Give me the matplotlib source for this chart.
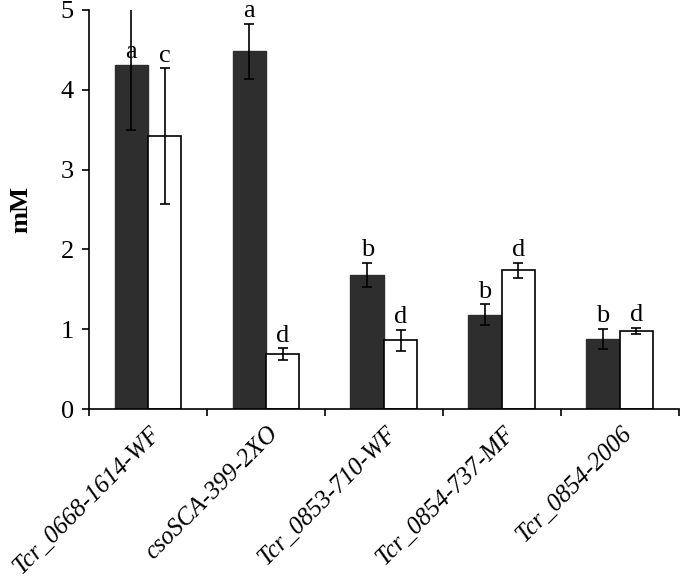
import matplotlib.pyplot as plt
import numpy as np

plt.rcParams["font.family"] = ["Liberation Serif", "DejaVu Serif"]

strains = ["Tcr_0668-1614-WF", "csoSCA-399-2XO", "Tcr_0853-710-WF",
           "Tcr_0854-737-MF", "Tcr_0854-2006"]
dark_vals = [4.31, 4.48, 1.68, 1.18, 0.88]
dark_err = [0.81, 0.35, 0.15, 0.13, 0.125]
white_vals = [3.42, 0.69, 0.86, 1.74, 0.98]
white_err = [0.85, 0.07, 0.13, 0.095, 0.035]
dark_letters = ["a", "a", "b", "b", "b"]
white_letters = ["c", "d", "d", "d", "d"]

fig = plt.figure(figsize=(6.8, 5.86), dpi=100)
ax = fig.add_axes([0.131, 0.302, 0.867, 0.681])

x = np.arange(len(strains)) + 0.5
w = 0.283
ekw = dict(ecolor="black", elinewidth=1.2, capsize=3.5, capthick=1.2)

ax.bar(x - w / 2, dark_vals, w, color="#2e2e2e", edgecolor="#2e2e2e",
       yerr=dark_err, error_kw=ekw, zorder=2)
ax.bar(x + w / 2, white_vals, w, color="white", edgecolor="black",
       linewidth=1.2, yerr=white_err, error_kw=ekw, zorder=2)

ymax = 5
fs = 19
for xi, v, e, t in zip(x - w / 2, dark_vals, dark_err, dark_letters):
    top = v + e if v + e < ymax else v
    ax.text(xi, top + 0.02, t, ha="center", va="bottom", fontsize=fs)
for xi, v, e, t in zip(x + w / 2, white_vals, white_err, white_letters):
    top = v + e if v + e < ymax else v
    ax.text(xi, top + 0.02, t, ha="center", va="bottom", fontsize=fs)

ax.set_xlim(0, len(strains))
ax.set_ylim(0, ymax)
ax.set_yticks(range(0, 6))
ax.set_xticks(range(0, len(strains) + 1))
ax.set_xticklabels([])
ax.tick_params(axis="both", direction="out", length=5, width=1.2,
               labelsize=fs, colors="black", pad=6)
for xi, s in zip(x, strains):
    ax.text(xi + 0.01, -0.17, s, rotation=45, ha="right", va="top",
            rotation_mode="anchor", fontsize=18, style="italic",
            transform=ax.transData)

for side in ["top", "right"]:
    ax.spines[side].set_visible(False)
for side in ["left", "bottom"]:
    ax.spines[side].set_linewidth(1.2)

ax.set_ylabel("mM", fontsize=fs, fontweight="bold", labelpad=20)

fig.savefig("out.png", dpi=100)
